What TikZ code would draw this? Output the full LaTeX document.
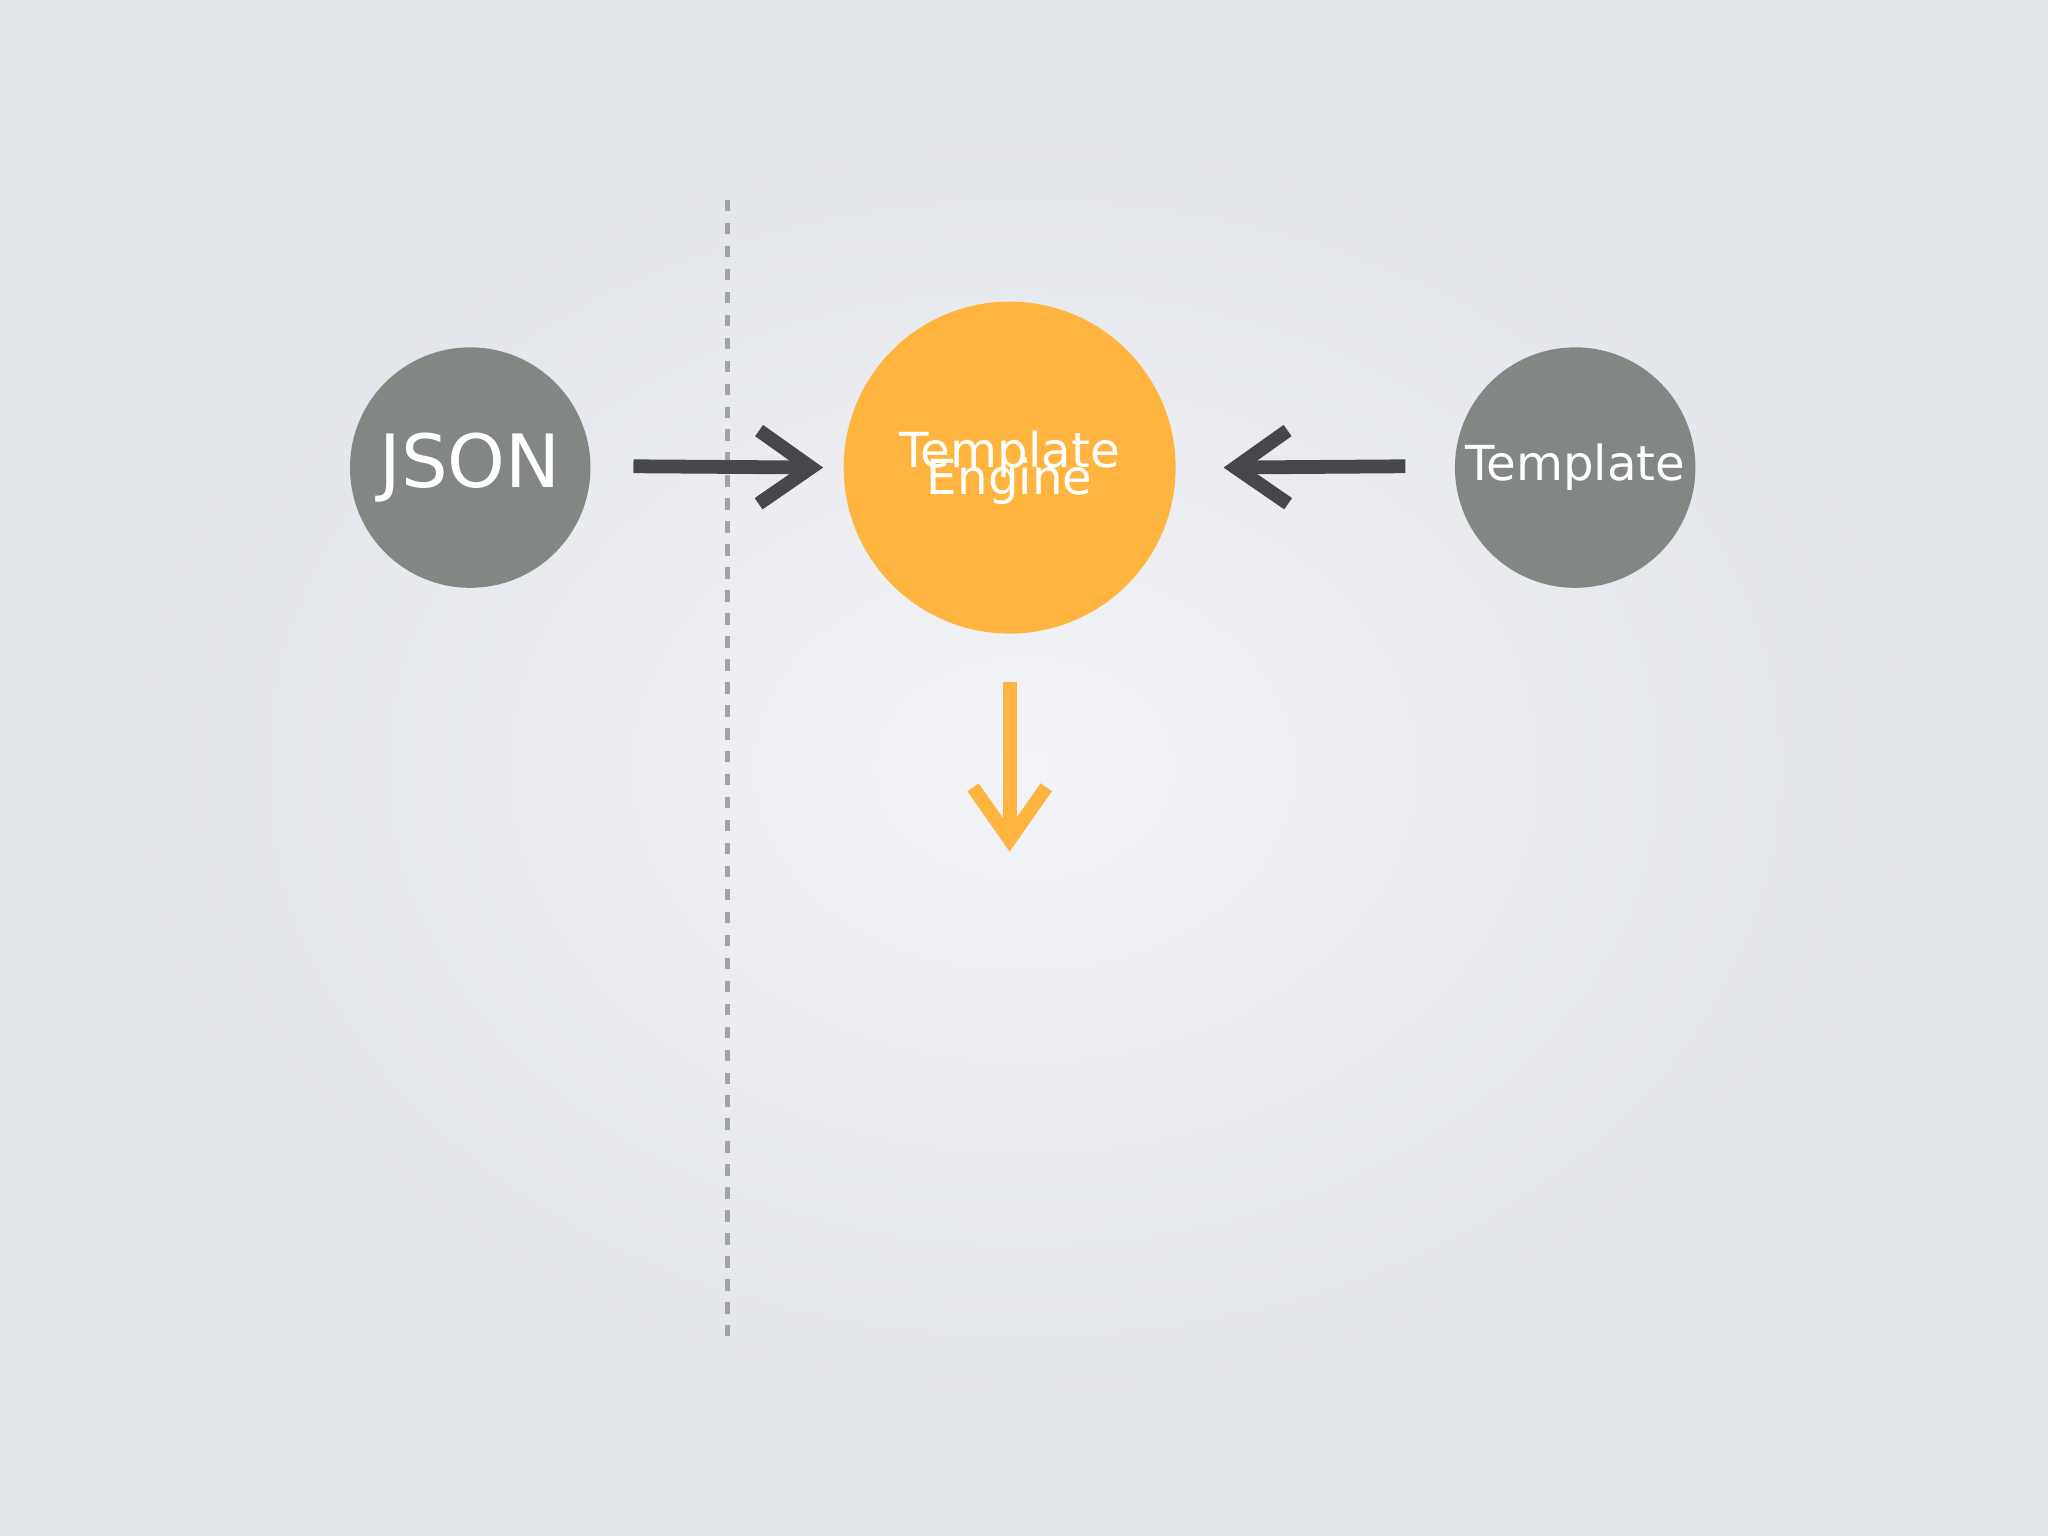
\documentclass[tikz,border=0pt]{standalone}
\usepackage{fontspec}
\setmainfont{DejaVu Sans}
\usetikzlibrary{arrows.meta}
\definecolor{bgout}{HTML}{E0E3E8}
\definecolor{bgin}{HTML}{F3F4F7}
\definecolor{circgray}{HTML}{838784}
\definecolor{eng}{HTML}{FFB440}
\definecolor{arrgray}{HTML}{45474A}
\definecolor{dashgray}{HTML}{A0A2A6}
\tikzset{
  bubble/.style={circle, fill=circgray, text=white, inner sep=0pt},
  flow/.style={line width=3pt, -{Straight Barb[length=4mm,width=5.6mm,line width=3pt]}},
}
\begin{document}
\begin{tikzpicture}[x=0.01cm,y=-0.01cm]
\shade[inner color=bgin, outer color=bgout] (0,0) rectangle (1568,1176);
\useasboundingbox (0,0) rectangle (1568,1176);
\draw[dashgray, line width=1.2pt, dash pattern=on 2.5pt off 2.5pt] (557,153) coordinate (dtop) -- (557,1023) coordinate (dbot);
\node[bubble, minimum size=1.84cm, font=\fontsize{16}{18}\selectfont] (json) at (360,358) {JSON};
\node[circle, fill=eng, text=white, minimum size=2.54cm, inner sep=0pt, align=center, font=\fontsize{10.5}{12}\selectfont] (engine) at (773,358) {Template\\[-6pt]Engine};
\node[bubble, minimum size=1.84cm, font=\fontsize{10.5}{13}\selectfont] (tpl) at (1206,358) {Template};
\coordinate (a1) at (485,357);
\coordinate (a2) at (1076,357);
\coordinate (a3) at (773,522);
\draw[flow, arrgray] (a1) -- ([xshift=-0.15cm]engine.west);
\draw[flow, arrgray] (a2) -- ([xshift=0.36cm]engine.east);
\draw[flow, eng] (a3) -- (773,652) coordinate (out);
\end{tikzpicture}
\end{document}
